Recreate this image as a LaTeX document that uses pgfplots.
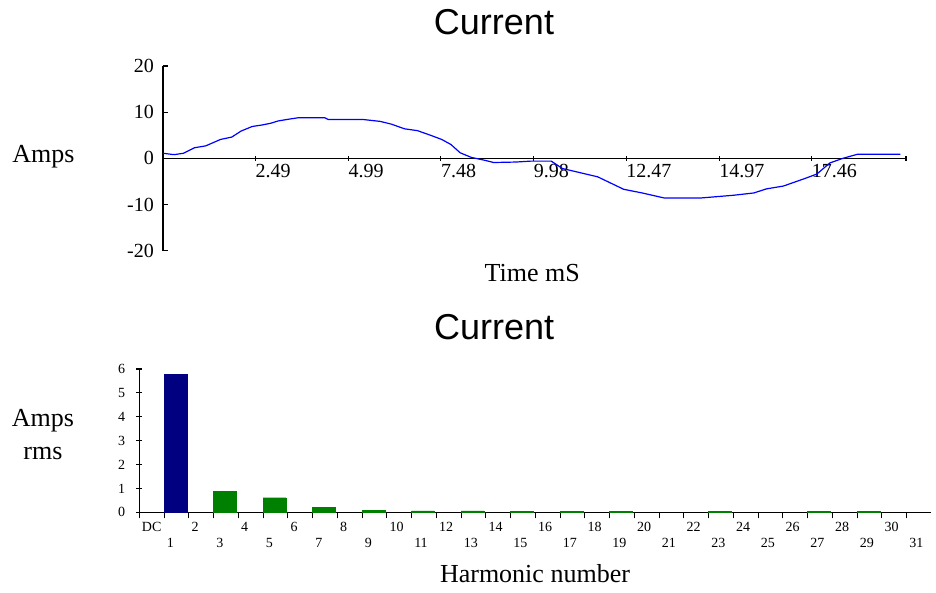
\documentclass[border=0pt]{standalone}
\usepackage{pgfplots}
\pgfplotsset{compat=1.18}
\usepackage{fontspec}
\setmainfont{Liberation Serif}
\newfontfamily\arial{Liberation Sans}
\definecolor{navybar}{RGB}{0,0,128}
\definecolor{greenbar}{RGB}{0,128,0}
\begin{document}
\begin{tikzpicture}[x=1pt,y=1pt]
\path[use as bounding box] (0,0) rectangle (936,592);
% ---------- top: time waveform ----------
\begin{axis}[
  at={(163pt,341.3pt)}, anchor=south west,
  scale only axis, width=743pt, height=184.7pt,
  xmin=0, xmax=20, ymin=-20, ymax=20,
  axis x line*=middle, axis y line*=left,
  axis line style={line width=1.2pt, black},
  every tick/.style={black, line width=1.1pt},
  major tick length=5pt,
  xtick align=center, ytick align=inside,
  xtick={2.49,4.99,7.48,9.98,12.47,14.97,17.46,20},
  xticklabels={2.49,4.99,7.48,9.98,12.47,14.97,17.46,{}},
  ytick={-20,-10,0,10,20},
  yticklabels={-20,-10,0,10,20},
  xticklabel style={anchor=north west, inner sep=0pt, yshift=-3pt, font=\fontsize{20}{24}\selectfont},
  yticklabel style={anchor=east, inner sep=0pt, xshift=-9pt, font=\fontsize{20}{24}\selectfont},
  title={Current},
  every axis title/.style={at={(axis description cs:0.4455,1.168)}, anchor=base, font=\arial\fontsize{36}{40}\selectfont},
  xlabel={Time mS},
  every axis x label/.style={at={(axis description cs:0.497,-0.167)}, anchor=base, font=\fontsize{26}{30}\selectfont},
  ylabel={Amps},
  every axis y label/.style={at={(axis description cs:-0.161,0.48)}, anchor=base, font=\fontsize{26}{30}\selectfont},
  clip=false,
]
\addplot[color={rgb,255:red,0;green,0;blue,255}, line width=1.2pt] coordinates {
(0,1.1) (0.3,0.8) (0.55,1.1) (0.85,2.3) (1.15,2.7) (1.55,4.1) (1.85,4.6)
(2.1,5.9) (2.4,6.9) (2.65,7.2) (2.9,7.6) (3.1,8.1) (3.4,8.5) (3.65,8.8)
(4.35,8.8) (4.45,8.4) (5.4,8.4) (5.85,8.0) (6.15,7.4) (6.5,6.4) (6.85,6.0)
(7.2,5.0) (7.5,4.1) (7.75,3.0) (8.0,1.2) (8.3,0.2) (8.65,-0.4) (8.9,-0.9)
(9.5,-0.8) (9.9,-0.6) (10.45,-0.6) (10.75,-2.2) (11.7,-4.0) (12.4,-6.7)
(12.9,-7.5) (13.5,-8.6) (14.45,-8.6) (15.35,-8.0) (15.9,-7.5) (16.25,-6.6)
(16.7,-6.0) (17.3,-4.3) (17.6,-3.4) (17.95,-1.0) (18.3,0.0) (18.7,0.9) (19.85,0.9)
};
\end{axis}
% ---------- bottom: harmonic spectrum ----------
\begin{axis}[
  at={(139.3pt,79.7pt)}, anchor=south west,
  scale only axis, width=792pt, height=143.3pt,
  xmin=-0.5, xmax=31.5, ymin=0, ymax=6,
  axis x line*=bottom, axis y line*=left,
  axis line style={line width=1.2pt, black},
  every tick/.style={black, line width=1.1pt},
  major tick length=6pt,
  tick align=center,
  ybar, bar width=0.92,
  xtick={-0.5,1.5,3.5,5.5,7.5,9.5,11.5,13.5,15.5,17.5,19.5,21.5,23.5,25.5,27.5,29.5},
  xticklabels={DC,2,4,6,8,10,12,14,16,18,20,22,24,26,28,30},
  extra x ticks={0.5,2.5,4.5,6.5,8.5,10.5,12.5,14.5,16.5,18.5,20.5,22.5,24.5,26.5,28.5,30.5},
  extra x tick labels={1,3,5,7,9,11,13,15,17,19,21,23,25,27,29,31},
  extra x tick style={xticklabel style={yshift=-16pt}},
  ytick={0,1,2,3,4,5,6},
  yticklabels={0,1,2,3,4,5,6},
  xticklabel style={anchor=north west, inner sep=0pt, xshift=2.5pt, yshift=-4pt, font=\fontsize{14}{16}\selectfont},
  yticklabel style={anchor=east, inner sep=0pt, xshift=-11pt, font=\fontsize{14}{16}\selectfont},
  title={Current},
  every axis title/.style={at={(axis description cs:0.448,1.209)}, anchor=base, font=\arial\fontsize{36}{40}\selectfont},
  xlabel={Harmonic number},
  every axis x label/.style={at={(axis description cs:0.4996,-0.493)}, anchor=base, font=\fontsize{26}{30}\selectfont},
  ylabel={Amps\\rms},
  every axis y label/.style={at={(axis description cs:-0.1216,0.546)}, anchor=center, align=center, font=\fontsize{26}{33}\selectfont},
  clip=false,
]
\addplot[fill=navybar, draw=navybar, bar shift=-0.04] coordinates {(1,5.8)};
\addplot[fill=greenbar, draw=greenbar, bar shift=-0.04] coordinates {
(3,0.89) (5,0.61) (7,0.21) (9,0.07) (11,0.06) (13,0.06) (15,0.05) (17,0.05)
(19,0.05) (23,0.05) (27,0.05) (29,0.05)
};
\end{axis}
\end{tikzpicture}
\end{document}
